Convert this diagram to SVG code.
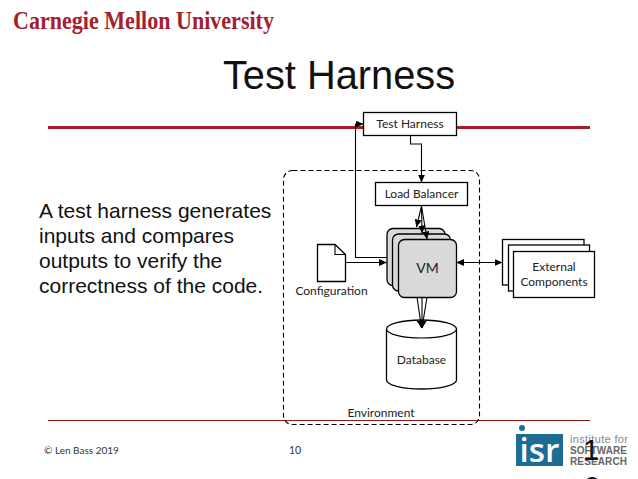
<svg xmlns="http://www.w3.org/2000/svg" width="638" height="479" viewBox="0 0 638 479">
<defs>
<marker id="a" markerWidth="8" markerHeight="7" refX="7.500" refY="3.500" orient="auto-start-reverse" markerUnits="userSpaceOnUse"><path d="M0 0L8 3.500L0 7Z" fill="#000"/></marker>
</defs>
<style>
.s{fill:#fff;stroke:#000;stroke-width:1.3}
.v{fill:#d9d9d9;stroke:#000;stroke-width:1.3}
.c{fill:none;stroke:#000;stroke-width:1.1;marker-end:url(#a)}
.l{font-family:"Lato","Liberation Sans",sans-serif;font-size:12px;fill:#222;text-anchor:middle}
.b{font-family:"Liberation Sans",Arial,sans-serif;font-size:21px;fill:#111}
</style>
<rect width="638" height="479" fill="#fff"/>
<text x="13" y="29" font-family="Liberation Serif,serif" font-weight="bold" font-size="25" fill="#a5202f" textLength="261" lengthAdjust="spacingAndGlyphs">Carnegie Mellon University</text>
<text id="title" x="339" y="89" font-family="Liberation Sans,Arial,sans-serif" font-size="39.800" fill="#111" text-anchor="middle">Test Harness</text>
<path d="M48 127.500H590" stroke="#a51f24" stroke-width="3" fill="none"/>
<path d="M48 420.500H590" stroke="#8f1d1d" stroke-width="1" fill="none"/>
<g id="description" class="b">
<text x="39" y="218">A test harness generates</text>
<text x="39" y="243">inputs and compares</text>
<text x="39" y="268">outputs to verify the</text>
<text x="39" y="293">correctness of the code.</text>
</g>
<g id="environment">
<rect x="283.500" y="170.500" width="196" height="254" rx="9" fill="none" stroke="#000" stroke-width="1.1" stroke-dasharray="5 3"/>
<text class="l" x="381" y="417">Environment</text>
</g>
<g id="test-harness">
<rect class="s" x="363.500" y="112.500" width="93" height="23"/>
<text class="l" x="410" y="128">Test Harness</text>
</g>
<g id="load-balancer">
<rect class="s" x="375.500" y="182.500" width="92" height="23"/>
<text class="l" x="421.500" y="198">Load Balancer</text>
</g>
<g id="vm">
<rect class="v" x="387" y="228.500" width="58" height="57" rx="6"/>
<rect class="v" x="392.500" y="234" width="58" height="57" rx="6"/>
<rect class="v" x="398.500" y="239.500" width="58" height="58" rx="6"/>
<text x="427.500" y="273" font-family="Lato,Liberation Sans,sans-serif" font-size="14" fill="#222" text-anchor="middle">VM</text>
</g>
<g id="configuration">
<path class="s" d="M317.500 244.500H335L345.500 254.500V281.500H317.500Z"/>
<path d="M335 244.500V254.500H345.500" fill="none" stroke="#000" stroke-width="1.1"/>
<text class="l" x="331.500" y="295">Configuration</text>
</g>
<g id="database">
<path class="s" d="M386.500 329V380A35 9 0 0 0 456.500 380V329A35 9 0 0 0 386.500 329Z"/>
<path d="M386.500 329A35 9 0 0 0 456.500 329" fill="none" stroke="#000" stroke-width="1.2"/>
<text class="l" x="421.500" y="364">Database</text>
</g>
<g id="external-components">
<rect class="s" x="502.500" y="239.500" width="81.500" height="45.500"/>
<rect class="s" x="508.500" y="245" width="81" height="46"/>
<rect class="s" x="513.500" y="251.500" width="81" height="46"/>
<text class="l" x="554" y="271">External</text>
<text class="l" x="554" y="286">Components</text>
</g>
<g id="connectors">
<path class="c" d="M387 257.500H355.500V124H363"/>
<path class="c" d="M410.500 135.500V144H421.500V182"/>
<path class="c" d="M421.500 206L416.500 227"/>
<path class="c" d="M421.500 206L422 233"/>
<path class="c" d="M421.500 206L427 239"/>
<path class="c" d="M345.500 262.500H386.500"/>
<path class="c" d="M417 297L421.500 328"/>
<path class="c" d="M422 297L422 328"/>
<path class="c" d="M427 297L422 328"/>
<path class="c" d="M456.500 262.500H502" style="marker-start:url(#a)"/>
</g>
<g id="footer">
<text x="44" y="454" font-family="Lato,Liberation Sans,sans-serif" font-size="10" fill="#333">© Len Bass 2019</text>
<text x="295" y="454" font-family="Lato,Liberation Sans,sans-serif" font-size="10.500" fill="#333" text-anchor="middle">10</text>
</g>
<g id="isr-logo">
<circle cx="522" cy="428" r="3" fill="#1d6c93"/>
<rect x="516" y="434" width="47" height="32" fill="#1d6c93"/>
<text x="539.500" y="462" font-family="Open Sans,Liberation Sans,sans-serif" font-size="32" font-weight="600" fill="#fff" text-anchor="middle" textLength="40" lengthAdjust="spacingAndGlyphs">isr</text>
<text x="570" y="443" font-family="Liberation Sans,sans-serif" font-size="11" fill="#888" textLength="58">institute for</text>
<text x="570" y="454" font-family="Liberation Sans,sans-serif" font-size="10" font-weight="bold" fill="#666" textLength="57">SOFTWARE</text>
<text x="570" y="465" font-family="Liberation Sans,sans-serif" font-size="10" font-weight="bold" fill="#666" textLength="57">RESEARCH</text>
</g>
<g id="page-number" font-family="Liberation Sans,sans-serif" font-size="30" fill="#111" text-anchor="middle">
<text x="591" y="460">1</text>
<text x="592" y="497">0</text>
</g>
</svg>
